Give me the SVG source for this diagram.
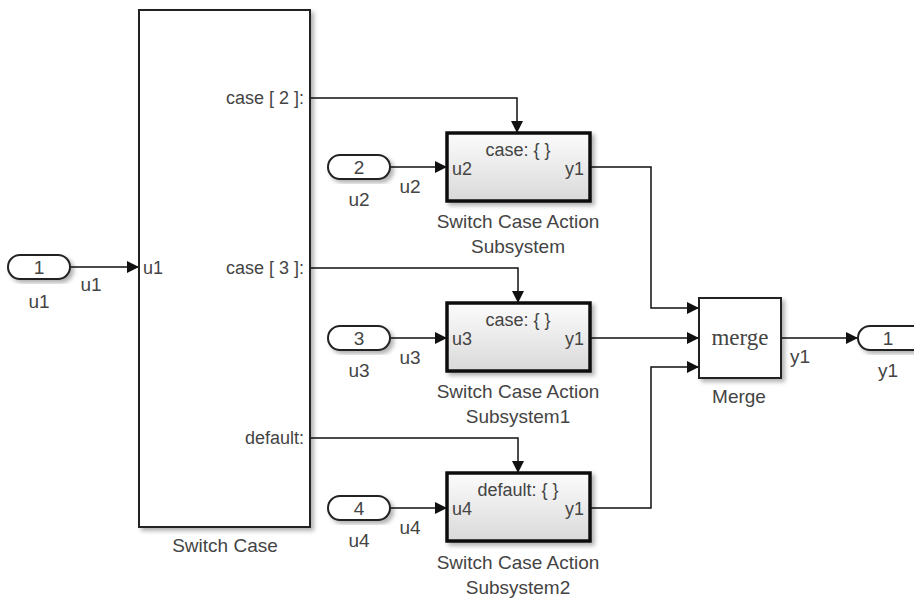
<svg xmlns="http://www.w3.org/2000/svg" width="914" height="599" viewBox="0 0 914 599">
<defs>
<style>
.blk{fill:#fff;stroke:#222;stroke-width:2}
.sub{fill:url(#g);stroke:#111;stroke-width:3.5}
.t{font-family:"Liberation Sans",Arial,sans-serif;fill:#444}
.nm{font-size:19px;text-anchor:middle}
.pl{font-size:18px}
.ln{fill:none;stroke:#111;stroke-width:1.5}
</style>
<linearGradient id="g" x1="0" y1="0" x2="0" y2="1">
<stop offset="0" stop-color="#fcfcfc"/>
<stop offset="1" stop-color="#d9d9d9"/>
</linearGradient>
<filter id="sh" x="-10%" y="-10%" width="130%" height="130%">
<feDropShadow dx="3" dy="3" stdDeviation="2" flood-color="#000" flood-opacity="0.3"/>
</filter>
<marker id="ar" markerWidth="12" markerHeight="12" viewBox="0 0 12 12" refX="12" refY="6" orient="auto" markerUnits="userSpaceOnUse">
<path d="M0,0 L12,6 L0,12 Z" fill="#111"/>
</marker>
</defs>

<g id="connectors">
<path class="ln" d="M70,267 H139" marker-end="url(#ar)"/>
<path class="ln" d="M310,98 H517 V133" marker-end="url(#ar)"/>
<path class="ln" d="M390,167 H447" marker-end="url(#ar)"/>
<path class="ln" d="M310,268 H518 V303" marker-end="url(#ar)"/>
<path class="ln" d="M390,338 H447" marker-end="url(#ar)"/>
<path class="ln" d="M310,438 H518 V473" marker-end="url(#ar)"/>
<path class="ln" d="M390,508 H447" marker-end="url(#ar)"/>
<path class="ln" d="M590,167 H651 V308 H699" marker-end="url(#ar)"/>
<path class="ln" d="M590,338 H699" marker-end="url(#ar)"/>
<path class="ln" d="M590,508 H651 V367 H699" marker-end="url(#ar)"/>
<path class="ln" d="M781,338 H858" marker-end="url(#ar)"/>
<text class="t nm" x="91" y="291">u1</text>
<text class="t nm" x="410" y="193">u2</text>
<text class="t nm" x="410" y="364">u3</text>
<text class="t nm" x="410" y="534">u4</text>
<text class="t nm" x="800" y="363">y1</text>
</g>

<g id="in1">
<rect class="blk" x="8" y="255" width="62" height="24" rx="12" filter="url(#sh)"/>
<text class="t nm" x="39" y="274">1</text>
<text class="t nm" x="39" y="308">u1</text>
</g>
<g id="in2">
<rect class="blk" x="328" y="155" width="62" height="24" rx="12" filter="url(#sh)"/>
<text class="t nm" x="359" y="174">2</text>
<text class="t nm" x="359" y="206">u2</text>
</g>
<g id="in3">
<rect class="blk" x="328" y="326" width="62" height="24" rx="12" filter="url(#sh)"/>
<text class="t nm" x="359" y="345">3</text>
<text class="t nm" x="359" y="377">u3</text>
</g>
<g id="in4">
<rect class="blk" x="328" y="496" width="62" height="24" rx="12" filter="url(#sh)"/>
<text class="t nm" x="359" y="515">4</text>
<text class="t nm" x="359" y="547">u4</text>
</g>

<g id="switchcase">
<rect class="blk" x="139" y="10" width="171" height="517" filter="url(#sh)"/>
<text class="t pl" x="143" y="274">u1</text>
<text class="t pl" x="304" y="104" text-anchor="end">case [ 2 ]:</text>
<text class="t pl" x="304" y="274" text-anchor="end">case [ 3 ]:</text>
<text class="t pl" x="304" y="444" text-anchor="end">default:</text>
<text class="t nm" x="225" y="552">Switch Case</text>
</g>

<g id="sub1">
<rect class="sub" x="447" y="133" width="143" height="68" filter="url(#sh)"/>
<text class="t pl" x="518" y="156" text-anchor="middle">case: { }</text>
<text class="t pl" x="452" y="175">u2</text>
<text class="t pl" x="584" y="175" text-anchor="end">y1</text>
<text class="t nm" x="518" y="228">Switch Case Action</text>
<text class="t nm" x="518" y="253">Subsystem</text>
</g>
<g id="sub2">
<rect class="sub" x="447" y="303" width="143" height="68" filter="url(#sh)"/>
<text class="t pl" x="518" y="326" text-anchor="middle">case: { }</text>
<text class="t pl" x="452" y="345">u3</text>
<text class="t pl" x="584" y="345" text-anchor="end">y1</text>
<text class="t nm" x="518" y="398">Switch Case Action</text>
<text class="t nm" x="518" y="423">Subsystem1</text>
</g>
<g id="sub3">
<rect class="sub" x="447" y="473" width="143" height="68" filter="url(#sh)"/>
<text class="t pl" x="518" y="496" text-anchor="middle">default: { }</text>
<text class="t pl" x="452" y="515">u4</text>
<text class="t pl" x="584" y="515" text-anchor="end">y1</text>
<text class="t nm" x="518" y="569">Switch Case Action</text>
<text class="t nm" x="518" y="594">Subsystem2</text>
</g>

<g id="merge">
<rect class="blk" x="699" y="298" width="82" height="80" filter="url(#sh)"/>
<text x="740" y="345" text-anchor="middle" style="font-family:'Liberation Serif','Times New Roman',serif;font-size:23px;fill:#444">merge</text>
<text class="t nm" x="739" y="403">Merge</text>
</g>

<g id="out1">
<rect class="blk" x="858" y="326" width="70" height="24" rx="12" filter="url(#sh)"/>
<text class="t nm" x="888" y="345">1</text>
<text class="t nm" x="888" y="377">y1</text>
</g>
</svg>
